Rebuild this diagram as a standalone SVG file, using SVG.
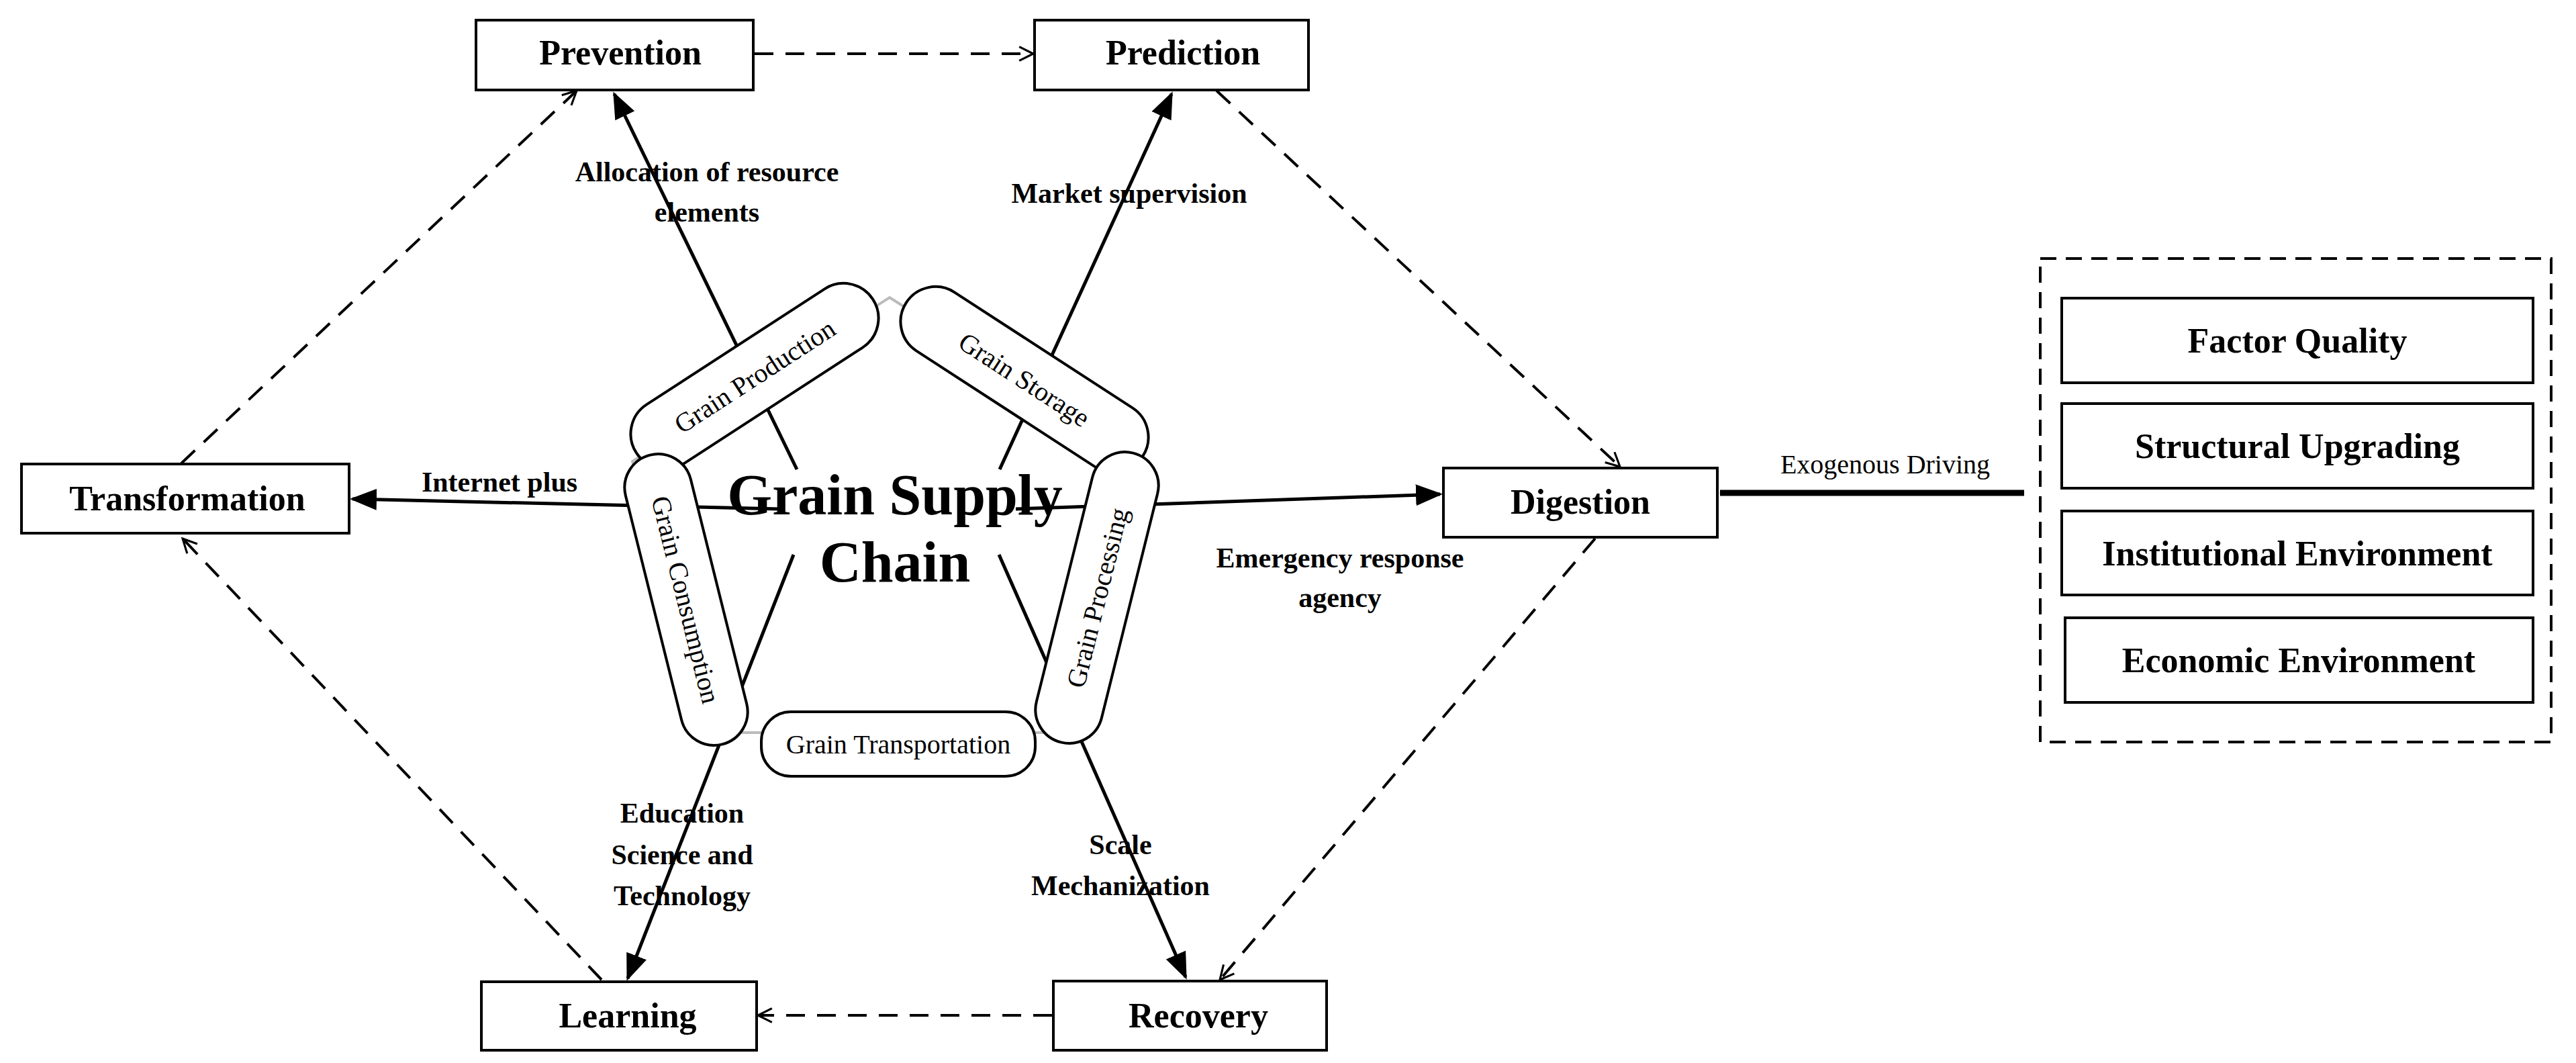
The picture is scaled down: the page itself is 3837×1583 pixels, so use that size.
<svg xmlns="http://www.w3.org/2000/svg" width="3837" height="1583" viewBox="0 0 3837 1583">
<style>
.box{fill:#fff;stroke:#000;stroke-width:4}
.pill{fill:#fff;stroke:#000;stroke-width:4}
.t{font-family:"Liberation Serif",serif;font-weight:bold;text-anchor:middle;fill:#000}
.n{font-size:52px}
.l{font-size:42px}
.p{font-family:"Liberation Serif",serif;font-size:40px;text-anchor:middle;fill:#000}
.s{stroke:#000;stroke-width:5;fill:none}
.d{stroke:#000;stroke-width:4;fill:none;stroke-dasharray:28 18}
</style>
<defs>
<marker id="fa" markerWidth="10" markerHeight="8" refX="9" refY="4" orient="auto" markerUnits="userSpaceOnUse" viewBox="0 0 10 8"><path d="M0,0L10,4L0,8Z" fill="#000"/></marker>
<marker id="fb" viewBox="0 0 10 8" refX="9" refY="4" markerWidth="40" markerHeight="32" orient="auto" markerUnits="userSpaceOnUse"><path d="M0,0L10,4L0,8Z" fill="#000"/></marker>
<marker id="oa" viewBox="0 0 10 10" refX="9" refY="5" markerWidth="26" markerHeight="26" orient="auto" markerUnits="userSpaceOnUse"><path d="M1,1L9,5L1,9" fill="none" stroke="#000" stroke-width="1.2"/></marker>
</defs>
<rect width="3837" height="1583" fill="#fff"/>
<g id="connectors">
<polygon points="1325,443 1711,687 1567,1091 1083,1091 942,687" fill="none" stroke="#bbb" stroke-width="4"/>
<line class="s" x1="1187" y1="699" x2="915" y2="140" marker-end="url(#fb)"/>
<line class="s" x1="1489" y1="699" x2="1745" y2="140" marker-end="url(#fb)"/>
<line class="s" x1="1162" y1="758" x2="525" y2="743" marker-end="url(#fb)"/>
<line class="s" x1="1513" y1="758" x2="2145" y2="736" marker-end="url(#fb)"/>
<line class="s" x1="1182" y1="826" x2="935" y2="1457" marker-end="url(#fb)"/>
<line class="s" x1="1488" y1="826" x2="1766" y2="1455" marker-end="url(#fb)"/>
<line x1="3015" y1="734" x2="2562" y2="734" stroke="#000" stroke-width="9" marker-end="url(#fa)"/>
<line class="d" x1="1124" y1="80" x2="1539" y2="80" marker-end="url(#oa)"/>
<line class="d" x1="1812" y1="135" x2="2413" y2="695" marker-end="url(#oa)"/>
<line class="d" x1="2376" y1="802" x2="1817" y2="1459" marker-end="url(#oa)"/>
<line class="d" x1="1567" y1="1512" x2="1129" y2="1512" marker-end="url(#oa)"/>
<line class="d" x1="896" y1="1459" x2="272" y2="802" marker-end="url(#oa)"/>
<line class="d" x1="270" y1="690" x2="859" y2="135" marker-end="url(#oa)"/>
</g>
<g id="pills">
<g id="grain-production" transform="translate(1124,560) rotate(-33)"><rect class="pill" x="-210" y="-52" width="420" height="104" rx="52"/><text class="p" y="14">Grain Production</text></g>
<g id="grain-storage" transform="translate(1526,565) rotate(33)"><rect class="pill" x="-210" y="-52" width="420" height="104" rx="52"/><text class="p" y="14">Grain Storage</text></g>
<g id="grain-consumption" transform="translate(1022,893) rotate(76)"><rect class="pill" x="-222" y="-50" width="444" height="100" rx="50"/><text class="p" y="14">Grain Consumption</text></g>
<g id="grain-processing" transform="translate(1634,890) rotate(-76)"><rect class="pill" x="-222" y="-50" width="444" height="100" rx="50"/><text class="p" y="14">Grain Processing</text></g>
<g id="grain-transportation"><rect class="pill" x="1134" y="1060" width="408" height="96" rx="44"/><text class="p" x="1338" y="1122">Grain Transportation</text></g>
</g>
<g id="center"><text class="t" x="1333" y="766" font-size="86">Grain Supply</text><text class="t" x="1333" y="866" font-size="86">Chain</text></g>
<g id="prevention"><rect class="box" x="709" y="30" width="413" height="104"/><text class="t n" x="924" y="96">Prevention</text></g>
<g id="prediction"><rect class="box" x="1541" y="30" width="408" height="104"/><text class="t n" x="1762" y="96">Prediction</text></g>
<g id="transformation"><rect class="box" x="32" y="691" width="488" height="103"/><text class="t n" x="279" y="760">Transformation</text></g>
<g id="digestion"><rect class="box" x="2150" y="697" width="408" height="103"/><text class="t n" x="2354" y="765">Digestion</text></g>
<g id="learning"><rect class="box" x="717" y="1462" width="410" height="102"/><text class="t n" x="935" y="1530">Learning</text></g>
<g id="recovery"><rect class="box" x="1569" y="1461" width="407" height="103"/><text class="t n" x="1785" y="1530">Recovery</text></g>
<g id="exogenous">
<rect x="3039" y="385" width="761" height="720" fill="none" stroke="#000" stroke-width="4" stroke-dasharray="24 14"/>
<rect class="box" x="3071" y="444" width="702" height="126"/><text class="t n" x="3422" y="525">Factor Quality</text>
<rect class="box" x="3071" y="601" width="702" height="126"/><text class="t n" x="3422" y="682">Structural Upgrading</text>
<rect class="box" x="3071" y="761" width="702" height="125"/><text class="t n" x="3422" y="842">Institutional Environment</text>
<rect class="box" x="3076" y="920" width="697" height="126"/><text class="t n" x="3424" y="1001">Economic Environment</text>
</g>
<g id="labels">
<text class="p" x="2808" y="705" font-size="44">Exogenous Driving</text>
<text class="t l" x="1053" y="270">Allocation of resource</text>
<text class="t l" x="1053" y="330">elements</text>
<text class="t l" x="1682" y="302">Market supervision</text>
<text class="t l" x="744" y="732">Internet plus</text>
<text class="t l" x="1996" y="845">Emergency response</text>
<text class="t l" x="1996" y="904">agency</text>
<text class="t l" x="1016" y="1225">Education</text>
<text class="t l" x="1016" y="1287">Science and</text>
<text class="t l" x="1016" y="1348">Technology</text>
<text class="t l" x="1669" y="1272">Scale</text>
<text class="t l" x="1669" y="1333">Mechanization</text>
</g>
</svg>
